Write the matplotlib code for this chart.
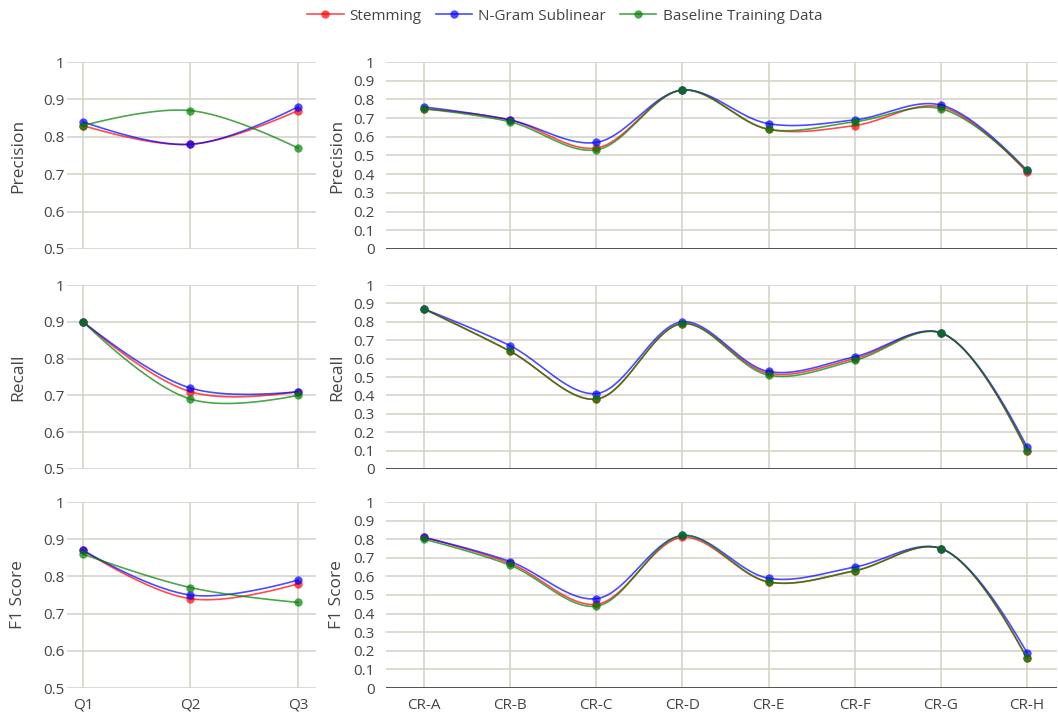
import numpy as np
import matplotlib
matplotlib.use("Agg")
import matplotlib.pyplot as plt
from matplotlib.lines import Line2D

plt.rcParams['font.family'] = ['Open Sans', 'DejaVu Sans']

series = ["Stemming", "N-Gram Sublinear", "Baseline Training Data"]
colors = ["#ff0000", "#0000ff", "#008000"]
metrics = ["Precision", "Recall", "F1 Score"]

quarters = ["Q1", "Q2", "Q3"]
regions = ["CR-A", "CR-B", "CR-C", "CR-D", "CR-E", "CR-F", "CR-G", "CR-H"]

# quarterly scores
q_precision = [[0.83, 0.78, 0.87], [0.84, 0.78, 0.88], [0.83, 0.87, 0.77]]
q_recall = [[0.90, 0.71, 0.71], [0.90, 0.72, 0.71], [0.90, 0.69, 0.70]]
q_f1 = [[0.87, 0.74, 0.78], [0.87, 0.75, 0.79], [0.86, 0.77, 0.73]]

# per-region scores
r_precision = [[0.75, 0.69, 0.54, 0.85, 0.64, 0.66, 0.76, 0.41],
               [0.76, 0.69, 0.57, 0.85, 0.67, 0.69, 0.77, 0.42],
               [0.75, 0.68, 0.53, 0.85, 0.64, 0.68, 0.75, 0.42]]
r_recall = [[0.87, 0.64, 0.38, 0.79, 0.52, 0.60, 0.74, 0.10],
            [0.87, 0.67, 0.41, 0.80, 0.53, 0.61, 0.74, 0.12],
            [0.87, 0.64, 0.38, 0.79, 0.51, 0.59, 0.74, 0.10]]
r_f1 = [[0.81, 0.67, 0.45, 0.81, 0.57, 0.63, 0.75, 0.16],
        [0.81, 0.68, 0.48, 0.82, 0.59, 0.65, 0.75, 0.19],
        [0.80, 0.66, 0.44, 0.82, 0.57, 0.63, 0.75, 0.16]]

left_data = [q_precision, q_recall, q_f1]
right_data = [r_precision, r_recall, r_f1]

W, H = 1058, 715
fig = plt.figure(figsize=(W / 100, H / 100), dpi=100)

GRID = "#d6d3c8"
TXT = "#444444"


def tangent(p0, p1, p2, s=1.0):
    d1 = p0 - p1
    d2 = p2 - p1
    a1 = np.hypot(*d1) ** 0.5
    a2 = np.hypot(*d2) ** 0.5
    num = (a2 * a2 * d1 - a1 * a1 * d2) * s
    den1 = 3 * a2 * (a1 + a2)
    den2 = 3 * a1 * (a1 + a2)
    return p1 + num / den1, p1 - num / den2


def bez(pts, n=40):
    t = np.linspace(0, 1, n)[:, None]
    if len(pts) == 3:
        a, b, c = pts
        return (1 - t) ** 2 * a + 2 * (1 - t) * t * b + t ** 2 * c
    a, b, c, d = pts
    return (1 - t) ** 3 * a + 3 * (1 - t) ** 2 * t * b + 3 * (1 - t) * t ** 2 * c + t ** 3 * d


def spline(xs, ys, sx, sy):
    P = np.column_stack([np.asarray(xs, float) * sx, np.asarray(ys, float) * sy])
    tg = [tangent(P[i - 1], P[i], P[i + 1]) for i in range(1, len(P) - 1)]
    parts = [bez([P[0], tg[0][0], P[1]])]
    for i in range(2, len(P) - 1):
        parts.append(bez([P[i - 1], tg[i - 2][1], tg[i - 1][0], P[i]]))
    parts.append(bez([P[-2], tg[-1][1], P[-1]]))
    out = np.vstack(parts)
    return out[:, 0] / sx, out[:, 1] / sy


# panel rows in pixels (top, bottom)
rows = [(62, 249), (285, 469), (502, 688)]
left_x = (67, 316, 83, 298)      # axes left, right, first cat, last cat
right_x = (386, 1057, 424, 1027)


def make_ax(px, row, ncat, ylim):
    l, r, c0, c1 = px
    top, bot = row
    ax = fig.add_axes([l / W, (H - bot) / H, (r - l) / W, (bot - top) / H])
    step = (c1 - c0) / (ncat - 1)
    ax.set_xlim((l - c0) / step, (ncat - 1) + (r - c1) / step)
    ax.set_ylim(*ylim)
    for sp in ax.spines.values():
        sp.set_visible(False)
    ax.grid(True, color=GRID, linewidth=1.2)
    ax.set_axisbelow(True)
    ax.tick_params(length=0, colors=TXT, labelsize=11)
    sx = step
    sy = (bot - top) / (ylim[1] - ylim[0])
    return ax, sx, sy


for row_i, row in enumerate(rows):
    # quarterly panel
    ax, sx, sy = make_ax(left_x, row, len(quarters), (0.5, 1.0))
    ax.set_xticks(range(len(quarters)))
    ax.set_yticks([0.5, 0.6, 0.7, 0.8, 0.9, 1.0])
    ax.set_yticklabels(["0.5", "0.6", "0.7", "0.8", "0.9", "1"])
    ax.tick_params(axis="y", pad=2)
    ax.tick_params(axis="x", pad=7)
    if row_i == 2:
        ax.set_xticklabels(quarters)
    else:
        ax.set_xticklabels([])
    ax.set_ylabel(metrics[row_i], fontsize=12.5, color=TXT)
    ax.yaxis.set_label_coords((26 - 67) / 249, 0.5)
    for k in range(3):
        xs = np.arange(len(quarters))
        ys = left_data[row_i][k]
        cx, cy = spline(xs, ys, sx, sy)
        ax.plot(cx, cy, color=colors[k], alpha=0.7, lw=1.2, clip_on=False)
        ax.plot(xs, ys, "o", color=colors[k], alpha=0.7, ms=6, mew=0, clip_on=False)

    # regional panel
    ax, sx, sy = make_ax(right_x, row, len(regions), (0.0, 1.0))
    ax.set_xticks(range(len(regions)))
    yt = np.round(np.arange(0, 1.01, 0.1), 1)
    ax.set_yticks(yt)
    ax.set_yticklabels(["0"] + [f"{v:g}" for v in yt[1:-1]] + ["1"])
    ax.tick_params(axis="y", pad=8)
    ax.tick_params(axis="x", pad=7)
    if row_i == 2:
        ax.set_xticklabels(regions)
    else:
        ax.set_xticklabels([])
    ax.axhline(0, color="#444444", lw=2, zorder=1)
    ax.set_ylabel(metrics[row_i], fontsize=12.5, color=TXT)
    ax.yaxis.set_label_coords((345 - 386) / 671, 0.5)
    for k in range(3):
        xs = np.arange(len(regions))
        ys = right_data[row_i][k]
        cx, cy = spline(xs, ys, sx, sy)
        ax.plot(cx, cy, color=colors[k], alpha=0.7, lw=1.2, clip_on=False)
        ax.plot(xs, ys, "o", color=colors[k], alpha=0.7, ms=6, mew=0, clip_on=False)

handles = [Line2D([], [], color=c, alpha=0.7, lw=1.2, marker="o", ms=6, mew=0) for c in colors]
fig.legend(handles, series, loc="center", bbox_to_anchor=(564.5 / W, 1 - 16 / H), ncol=3,
           frameon=False, fontsize=11, labelcolor=TXT, handlelength=2.4,
           columnspacing=0.9, handletextpad=0.4)

fig.savefig("out.png", dpi=100)
